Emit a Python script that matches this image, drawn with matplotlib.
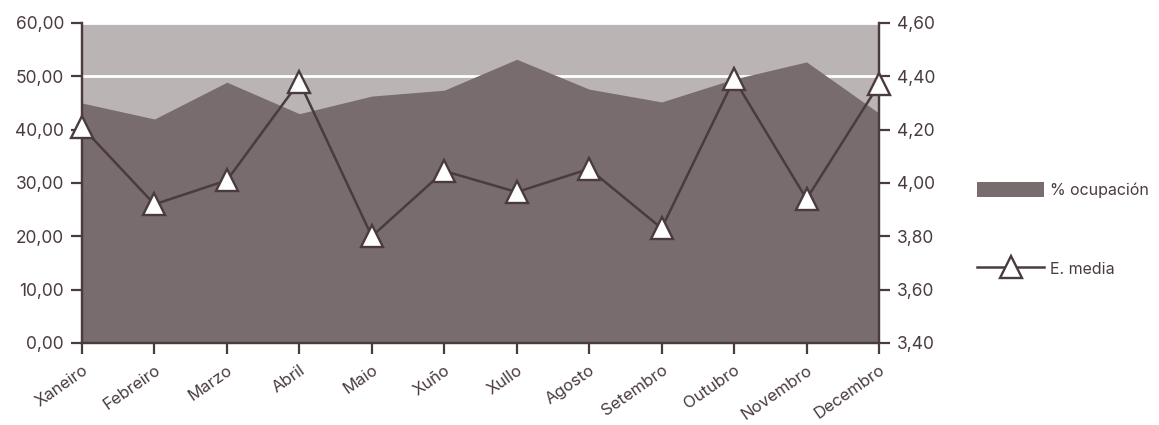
import matplotlib.pyplot as plt
from matplotlib.patches import Patch
from matplotlib.lines import Line2D

plt.rcParams['font.family'] = ['Inter', 'DejaVu Sans']

meses = ['Xaneiro', 'Febreiro', 'Marzo', 'Abril', 'Maio', 'Xuño', 'Xullo',
         'Agosto', 'Setembro', 'Outubro', 'Novembro', 'Decembro']
ocupacion = [45.0, 42.0, 48.9, 43.0, 46.3, 47.4, 53.2, 47.6, 45.2, 49.5, 52.7, 43.1]
estancia = [4.21, 3.92, 4.01, 4.38, 3.80, 4.045, 3.966, 4.053, 3.83, 4.39, 3.94, 4.37]

escura = '#786c6e'
clara = '#bab4b4'
texto = '#4a3c3e'

fig = plt.figure(figsize=(11.59, 4.25), dpi=100)
ax = fig.add_axes([82 / 1159, 1 - 343 / 425, (879 - 82) / 1159, 320 / 425])
ax2 = ax.twinx()

x = list(range(len(meses)))

# area de ocupacion sobre fondo claro
ax.set_facecolor(clara)
ax.fill_between(x, 0, ocupacion, color=escura, lw=0, zorder=2)
ax.set_ylim(0, 60)
ax.set_xlim(0, len(meses) - 1)
ax.set_yticks(range(0, 61, 10))
ax.set_yticklabels([f'{v:.2f}'.replace('.', ',') for v in range(0, 61, 10)])
ax.yaxis.grid(True, color='white', lw=2)
ax.set_axisbelow(True)
ax.set_xticks(x)
ax.set_xticklabels(meses, rotation=35, ha='right', rotation_mode='anchor')

# estancia media no eixo dereito
ax2.plot(x, estancia, color=texto, lw=1.8, marker='^', markersize=16,
         markerfacecolor='white', markeredgecolor=texto, markeredgewidth=1.7,
         clip_on=False, zorder=5)
ax2.set_ylim(3.4, 4.6)
ticks2 = [3.4, 3.6, 3.8, 4.0, 4.2, 4.4, 4.6]
ax2.set_yticks(ticks2)
ax2.set_yticklabels([f'{v:.2f}'.replace('.', ',') for v in ticks2])

for a in (ax, ax2):
    a.spines['top'].set_visible(False)
    for s in ('left', 'right', 'bottom'):
        a.spines[s].set_color(texto)
        a.spines[s].set_linewidth(1.6)
    a.tick_params(colors=texto, labelsize=12.5, width=1.6, length=8, pad=5)
    a.tick_params(axis='x', labelsize=12, pad=6)

handles = [Patch(facecolor=escura, edgecolor='none', label='% ocupación'),
           Line2D([0], [0], color=texto, lw=1.8, marker='^', markersize=16,
                  markerfacecolor='white', markeredgecolor=texto,
                  markeredgewidth=1.7, label='E. media')]
fig.legend(handles=handles, loc='center left', bbox_to_anchor=(0.843, 0.46),
           frameon=False, fontsize=11.5, handlelength=4.2, handleheight=1.05,
           labelspacing=3.9, handletextpad=0.35, labelcolor=texto,
           borderaxespad=0, borderpad=0)

fig.savefig('out.png', dpi=100)
